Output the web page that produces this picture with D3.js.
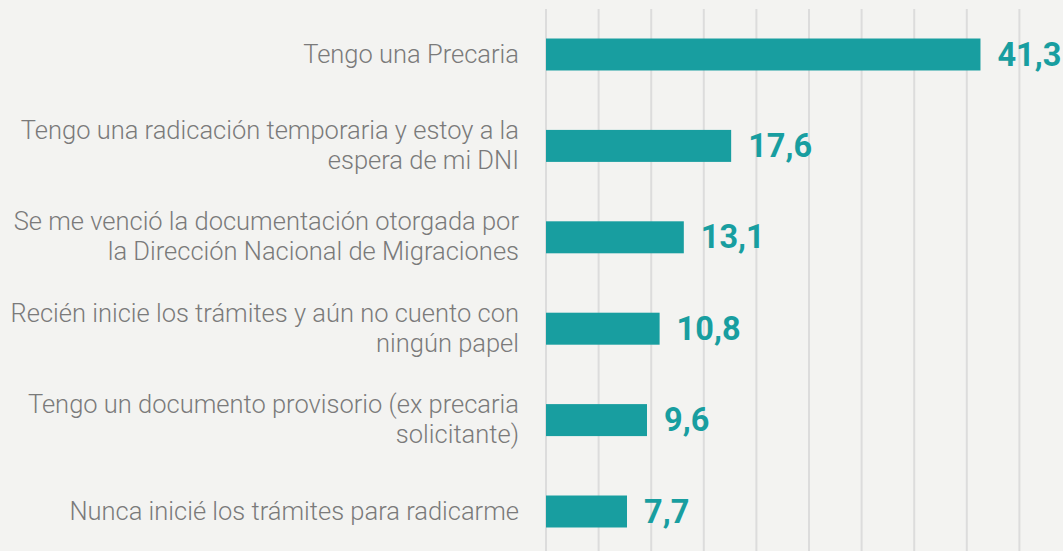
<!DOCTYPE html>
<html><head><meta charset="utf-8">
<script src="https://cdn.jsdelivr.net/npm/d3@7"></script>
<style>html,body{margin:0;padding:0;background:#f3f3f1;}svg{display:block;}</style>
</head><body>
<svg id="c" width="1063" height="551"></svg>
<script>
const categories = [
  ["Tengo una Precaria"],
  ["Tengo una radicación temporaria y estoy a la", "espera de mi DNI"],
  ["Se me venció la documentación otorgada por", "la Dirección Nacional de Migraciones"],
  ["Recién inicie los trámites y aún no cuento con", "ningún papel"],
  ["Tengo un documento provisorio (ex precaria", "solicitante)"],
  ["Nunca inicié los trámites para radicarme"]
];
const values = [41.3, 17.6, 13.1, 10.8, 9.6, 7.7];
const valueLabels = ["41,3", "17,6", "13,1", "10,8", "9,6", "7,7"];
const gridTicks = [0, 5, 10, 15, 20, 25, 30, 35, 40, 45];

const W = 1063, H = 551;
const svg = d3.select("#c");
svg.append("rect").attr("width", W).attr("height", H).attr("fill", "#f3f3f1");

const x = d3.scaleLinear().domain([0, 49]).range([546, 546 + 49 * 10.52]);
const idx = d3.range(categories.length);
const y = d3.scaleBand().domain(idx).range([8.8, 557.2]).paddingInner(0.65).paddingOuter(0.325);

// gridlines
svg.append("g").selectAll("line").data(gridTicks).join("line")
  .attr("x1", d => x(d)).attr("x2", d => x(d))
  .attr("y1", 9).attr("y2", H)
  .attr("stroke", "#dcdcdc").attr("stroke-width", 2);

// bars
svg.append("g").selectAll("rect").data(idx).join("rect")
  .attr("x", x(0)).attr("y", i => y(i))
  .attr("width", i => x(values[i]) - x(0))
  .attr("height", y.bandwidth())
  .attr("fill", "#189ea0");

// value labels
svg.append("g").selectAll("text").data(idx).join("text")
  .attr("x", i => x(values[i]) + 17)
  .attr("y", i => y(i) + y.bandwidth() / 2 + 11)
  .attr("font-family", "Roboto, sans-serif").attr("font-weight", 700)
  .attr("font-size", 32.5).attr("fill", "#189ea0")
  .text(i => valueLabels[i]);

// category labels
const lg = svg.append("g").selectAll("text").data(idx).join("text")
  .attr("text-anchor", "end")
  .attr("font-family", "'Roboto Light', Roboto, sans-serif").attr("font-weight", 300)
  .attr("font-size", 25.5).attr("fill", "#7a7a7a");
lg.each(function(i) {
  const lines = categories[i];
  const c = y(i) + y.bandwidth() / 2 + 8;
  const lh = 30;
  const start = c - (lines.length - 1) * lh / 2;
  d3.select(this).selectAll("tspan").data(lines).join("tspan")
    .attr("x", 519).attr("y", (d, k) => start + k * lh).text(d => d);
});
</script>
</body></html>
